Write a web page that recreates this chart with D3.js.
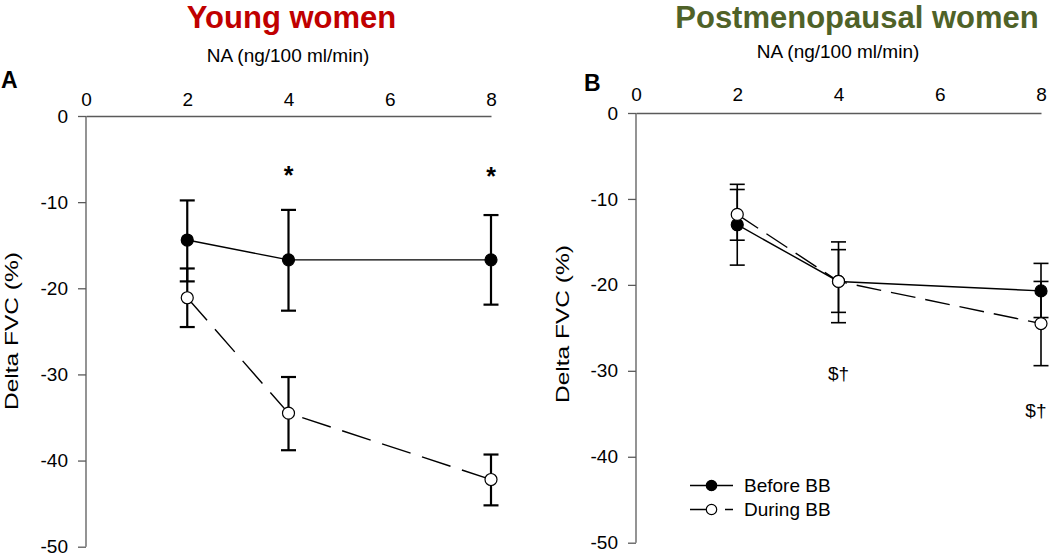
<!DOCTYPE html>
<html><head><meta charset="utf-8">
<script src="https://cdn.jsdelivr.net/npm/d3@7"></script>
<style>
body{margin:0;background:#fff;}
text{font-family:"Liberation Sans",Arial,Helvetica,sans-serif;fill:#000;}
</style></head>
<body><svg id="chart" width="1050" height="556"></svg>
<script>
// ---------- data ----------
const xDoses = [2, 4, 8];
const xTicks = [0, 2, 4, 6, 8];
const yTicks = [0, -10, -20, -30, -40, -50];

// Panel A - Young women
const youngBefore      = [-14.4, -16.7, -16.7];
const youngBeforeUpper = [-9.8, -10.9, -11.5];
const youngBeforeLower = [-19.2, -22.6, -21.9];
const youngDuring      = [-21.1, -34.5, -42.2];
const youngDuringUpper = [-17.7, -30.3, -39.3];
const youngDuringLower = [-24.5, -38.8, -45.2];
const youngMarksX = [4, 8];
const youngMarksY = [-6.5, -6.6];
const youngMarkText = ["*", "*"];

// Panel B - Postmenopausal women
const postBefore      = [-13.0, -19.6, -20.7];
const postBeforeUpper = [-8.3, -15.0, -17.5];
const postBeforeLower = [-17.7, -24.4, -23.8];
const postDuring      = [-11.8, -19.6, -24.5];
const postDuringUpper = [-8.9, -15.9, -19.6];
const postDuringLower = [-14.8, -23.2, -29.4];
const postMarksX = [4, 7.9];
const postMarksY = [-31.1, -35.4];
const postMarkText = ["$\u2020", "$\u2020"];

const seriesNames = ["Before BB", "During BB"];
const xTitle = "NA (ng/100 ml/min)";
const yTitle = "Delta FVC (%)";

const svg = d3.select("#chart");
const AXIS = "#5a5a5a";

function drawPanel(cfg){
  const g = svg.append("g");
  const x = d3.scaleLinear().domain([0, 8]).range(cfg.xRange);
  const y = d3.scaleLinear().domain([-50, 0]).range(cfg.yRange);

  // titles
  g.append("text").attr("x", cfg.titleX).attr("y", cfg.titleY)
    .attr("text-anchor", "middle").style("font-size", "31px").style("font-weight", "bold")
    .style("fill", cfg.titleColor).text(cfg.title);
  g.append("text").attr("x", cfg.xTitleX).attr("y", cfg.xTitleY)
    .attr("text-anchor", "middle").style("font-size", "19px").text(xTitle);
  g.append("text").attr("x", cfg.letterX).attr("y", cfg.letterY)
    .style("font-size", "23px").style("font-weight", "bold").text(cfg.letter);
  g.append("text")
    .attr("transform", `translate(${cfg.yTitleX},${cfg.yTitleY}) rotate(-90)`)
    .attr("text-anchor", "middle").style("font-size", "19px")
    .attr("textLength", 158).attr("lengthAdjust", "spacingAndGlyphs")
    .text(yTitle);

  // axes
  const xAxis = g.append("g").attr("transform", `translate(0,${y(0)})`)
    .call(d3.axisTop(x).tickValues(xTicks).tickSize(0).tickPadding(cfg.xPad).tickFormat(d3.format("d")));
  const yAxis = g.append("g").attr("transform", `translate(${x(0)},0)`)
    .call(d3.axisLeft(y).tickValues(yTicks).tickSize(8).tickPadding(10).tickFormat(d3.format("d")));
  [xAxis, yAxis].forEach(a => {
    a.select(".domain").attr("stroke", AXIS).attr("stroke-width", 1.3);
    a.selectAll(".tick line").attr("stroke", AXIS).attr("stroke-width", 1.3);
    a.selectAll(".tick text").style("font-size", "19px").style("font-family", "'Liberation Sans',Arial,sans-serif").attr("fill", "#000");
  });
  yAxis.select(".domain").attr("d", `M0,${y(-50)}V${y(0)}`);
  yAxis.selectAll(".tick text").text(d => d === 0 ? "0" : "-" + Math.abs(d));

  const line = d3.line().x(d => x(d[0])).y(d => y(d[1]));
  const series = [
    {m: cfg.before, up: cfg.beforeUp, lo: cfg.beforeLo, fill: "#000", dash: null},
    {m: cfg.during, up: cfg.duringUp, lo: cfg.duringLo, fill: "#fff", dash: cfg.dash}
  ];
  const order = cfg.drawOrder;
  // error bars
  order.forEach(i => {
    const s = series[i];
    const eb = g.append("g").attr("stroke", "#000").attr("stroke-width", cfg.ebWidth).attr("fill", "none");
    xDoses.forEach((xd, k) => {
      eb.append("line").attr("x1", x(xd)).attr("x2", x(xd)).attr("y1", y(s.up[k])).attr("y2", y(s.lo[k]));
      [s.up[k], s.lo[k]].forEach(v => eb.append("line")
        .attr("x1", x(xd) - 7.5).attr("x2", x(xd) + 7.5).attr("y1", y(v)).attr("y2", y(v)));
    });
  });
  // lines
  order.forEach(i => {
    const s = series[i];
    g.append("path").datum(xDoses.map((xd, k) => [xd, s.m[k]]))
      .attr("d", line).attr("fill", "none").attr("stroke", "#000").attr("stroke-width", 1.4)
      .attr("stroke-dasharray", s.dash);
  });
  // markers
  order.forEach(i => {
    const s = series[i];
    g.selectAll(null).data(xDoses.map((xd, k) => [xd, s.m[k]])).enter().append("circle")
      .attr("cx", d => x(d[0])).attr("cy", d => y(d[1])).attr("r", 6)
      .attr("fill", s.fill).attr("stroke", "#000").attr("stroke-width", 1.2);
  });
  // significance marks
  cfg.marksX.forEach((mx, k) => {
    g.append("text").attr("x", x(mx)).attr("y", y(cfg.marksY[k]))
      .attr("text-anchor", "middle").attr("dy", cfg.markDy)
      .style("font-size", cfg.markSize).style("font-weight", cfg.markWeight).text(cfg.marksT[k]);
  });
  return {x, y, g};
}

drawPanel({
  xRange: [86, 491], yRange: [546.7, 116], xPad: 10,
  title: "Young women", titleColor: "#c00000", titleX: 291.5, titleY: 28,
  xTitleX: 288, xTitleY: 62, letter: "A", letterX: 1, letterY: 88,
  yTitleX: 18, yTitleY: 331,
  before: youngBefore, beforeUp: youngBeforeUpper, beforeLo: youngBeforeLower,
  during: youngDuring, duringUp: youngDuringUpper, duringLo: youngDuringLower,
  dash: "30,12", ebWidth: 2.2, drawOrder: [1, 0],
  marksX: youngMarksX, marksY: youngMarksY, marksT: youngMarkText,
  markDy: "0.5em", markSize: "25px", markWeight: "bold"
});

const B = drawPanel({
  xRange: [636, 1041], yRange: [542.7, 113], xPad: 12,
  title: "Postmenopausal women", titleColor: "#4f6228", titleX: 857, titleY: 28,
  xTitleX: 838, xTitleY: 58, letter: "B", letterX: 584, letterY: 91,
  yTitleX: 569, yTitleY: 324,
  before: postBefore, beforeUp: postBeforeUpper, beforeLo: postBeforeLower,
  during: postDuring, duringUp: postDuringUpper, duringLo: postDuringLower,
  dash: "25,10", ebWidth: 1.6, drawOrder: [0, 1],
  marksX: postMarksX, marksY: postMarksY, marksT: postMarkText,
  markDy: "0", markSize: "19px", markWeight: "normal"
});

// legend (panel B)
const leg = B.g.append("g");
const legRows = [{name: seriesNames[0], fill: "#000", dash: null, y: 485.5},
                 {name: seriesNames[1], fill: "#fff", dash: "17,18,8,100", y: 509.5}];
legRows.forEach(r => {
  leg.append("line").attr("x1", 690).attr("x2", 733).attr("y1", r.y).attr("y2", r.y)
    .attr("stroke", "#000").attr("stroke-width", 1.4).attr("stroke-dasharray", r.dash);
  leg.append("circle").attr("cx", 711.5).attr("cy", r.y).attr("r", 5.2)
    .attr("fill", r.fill).attr("stroke", "#000").attr("stroke-width", 1.2);
  leg.append("text").attr("x", 744).attr("y", r.y + 6.5).style("font-size", "19px").text(r.name);
});
</script></body></html>
